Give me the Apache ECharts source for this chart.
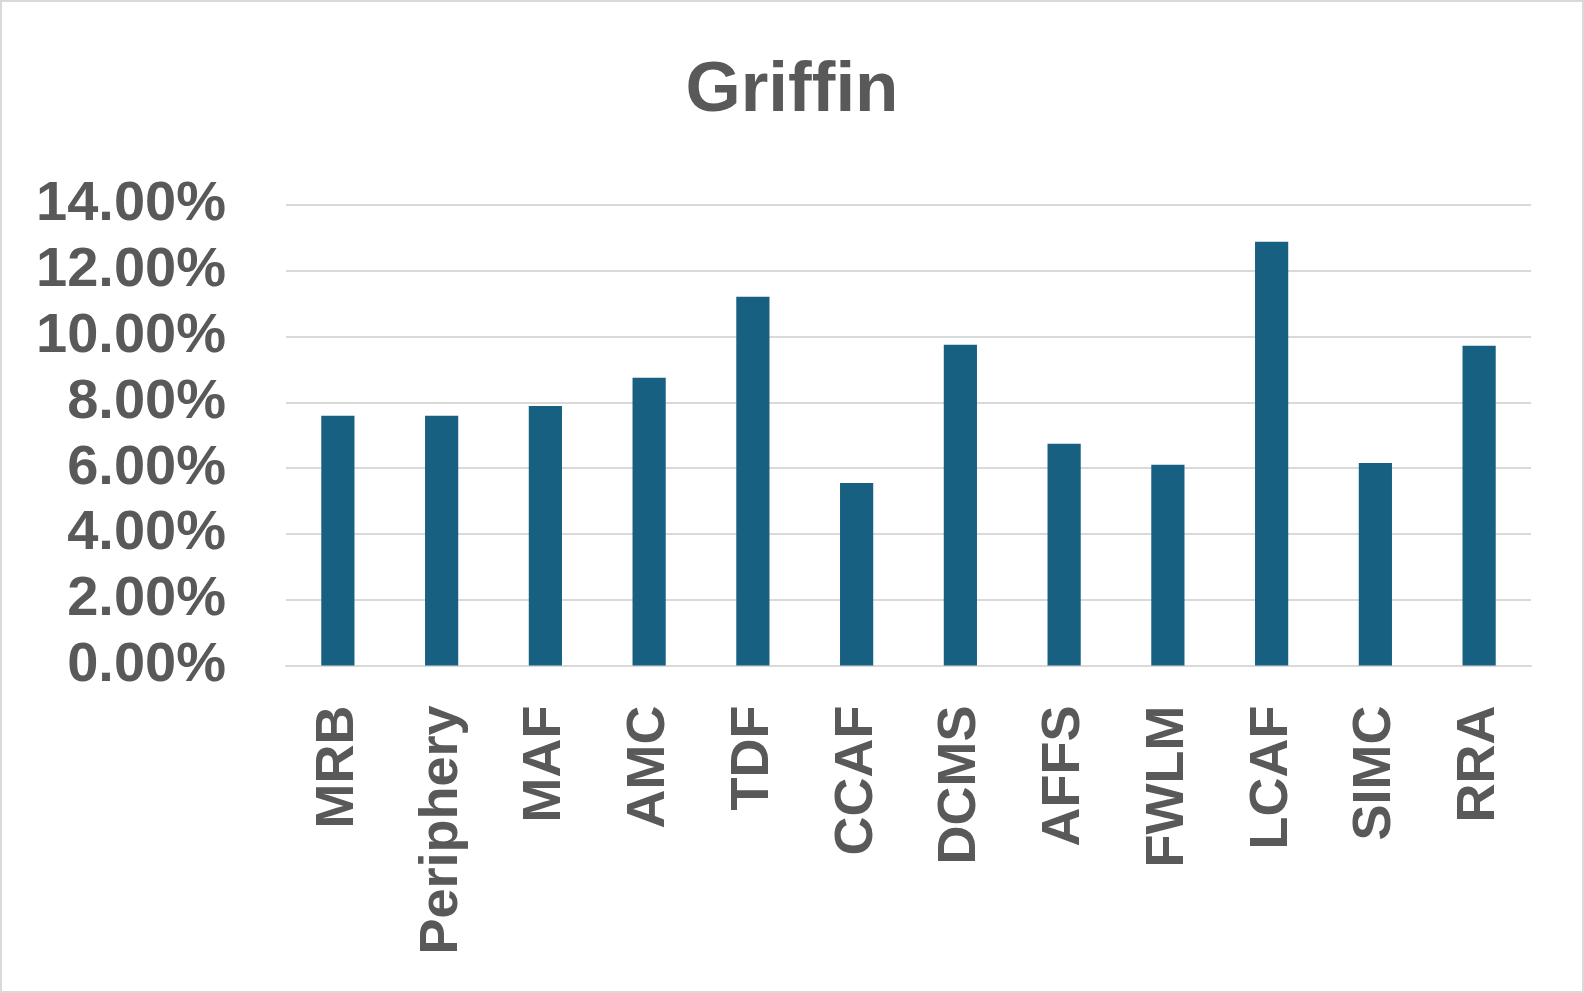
<!DOCTYPE html>
<html>
<head>
<meta charset="utf-8">
<script src="https://cdn.jsdelivr.net/npm/echarts@6/dist/echarts.min.js"></script>
<style>
html,body{margin:0;padding:0;background:#fff;}
#chart{width:1584px;height:993px;box-sizing:border-box;border:2px solid #d9d9d9;}
</style>
</head>
<body>
<div id="chart"></div>
<script>
const categories = ['MRB','Periphery','MAF','AMC','TDF','CCAF','DCMS','AFFS','FWLM','LCAF','SIMC','RRA'];
const values = [0.0759,0.0759,0.0789,0.0875,0.1121,0.0555,0.0975,0.0674,0.0610,0.1288,0.0616,0.0972];
const chartTitle = 'Griffin';

const chart = echarts.init(document.getElementById('chart'), null, {renderer:'canvas'});
const font = '"Liberation Sans", Arial, sans-serif';
chart.setOption({
  animation:false,
  backgroundColor:'#ffffff',
  title:{
    text:chartTitle, left:'center', top:49,
    textStyle:{fontFamily:font, fontWeight:'bold', fontSize:71, color:'#595959'}
  },
  grid:{left:284, right:51, top:203, bottom:325.5, containLabel:false},
  xAxis:{
    type:'category', data:categories,
    axisLine:{show:true, lineStyle:{color:'#d9d9d9', width:2}},
    axisTick:{show:false},
    axisLabel:{rotate:90, margin:40, interval:0, color:'#595959', fontFamily:font, fontWeight:'bold', fontSize:54}
  },
  yAxis:{
    type:'value', min:0, max:0.14, interval:0.02,
    axisLine:{show:false}, axisTick:{show:false},
    splitLine:{lineStyle:{color:'#d9d9d9', width:2}},
    axisLabel:{margin:60, color:'#595959', fontFamily:font, fontWeight:'bold', fontSize:56,
      formatter:v=>(v*100).toFixed(2)+'%'}
  },
  series:[{
    type:'bar', data:values, barWidth:'32%',
    itemStyle:{color:'#176082'}
  }]
});
</script>
</body>
</html>
